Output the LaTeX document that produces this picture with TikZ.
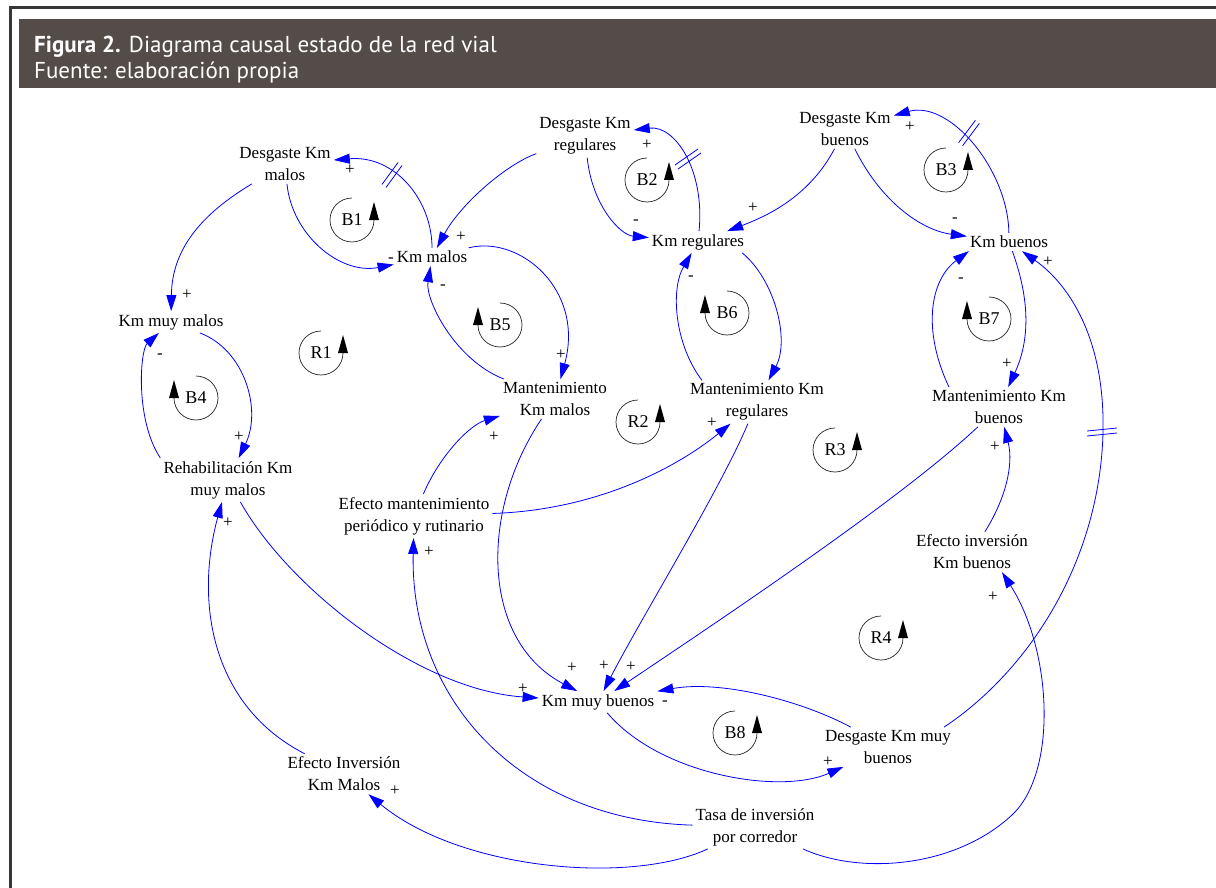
\documentclass[tikz,border=0pt]{standalone}
\usepackage{fontspec}
\setmainfont{Liberation Serif}
\newfontfamily\hdrfont{PT Sans}
\usetikzlibrary{arrows.meta,calc}
\definecolor{hdrgray}{RGB}{84,76,72}
\definecolor{framegray}{RGB}{55,55,55}
\definecolor{linkblue}{RGB}{0,0,255}
\newcommand\loopmarkR[4]{%
  \node[looplabel] (#1) at (#2,#3) {#4};
  \draw[loopline] (#2,#3) ++(-90:22) arc[start angle=-90,end angle=-360,radius=22];
  \fill[black] (#2+22-5,#3) -- (#2+22+5,#3) -- (#2+22,#3-18) -- cycle;}
\newcommand\loopmarkL[4]{%
  \node[looplabel] (#1) at (#2,#3) {#4};
  \draw[loopline] (#2,#3) ++(-90:22) arc[start angle=-90,end angle=180,radius=22];
  \fill[black] (#2-22-5,#3) -- (#2-22+5,#3) -- (#2-22,#3-18) -- cycle;}
\begin{document}
\begin{tikzpicture}[x=1pt,y=-1pt,
  var/.style={align=center,inner sep=3pt,font=\fontsize{17}{22}\selectfont,text=black},
  sgn/.style={inner sep=0pt,font=\fontsize{17}{17}\selectfont,text=black},
  link/.style={draw=linkblue,line width=0.8pt,-{Triangle[length=16pt,width=10pt]}},
  loopline/.style={draw=black!85,line width=0.7pt},
  looplabel/.style={inner sep=0pt,font=\fontsize{18}{18}\selectfont},
  delay/.style={draw=linkblue,line width=0.8pt},
  hdr/.style={anchor=base west,inner sep=0pt,text=white,font=\hdrfont\fontsize{23}{26}\selectfont}]
\useasboundingbox (0,0) rectangle (1216,888);
\fill[white] (0,0) rectangle (1216,888);
% frame and header
\fill[framegray] (9,6.5) rectangle (1216,9.5);
\fill[framegray] (9,6.5) rectangle (11.5,888);
\fill[hdrgray] (19,19) rectangle (1216,88);
\node[hdr] (title) at (34,53) {\textbf{Figura 2.} Diagrama causal estado de la red vial};
\node[hdr] (source) at (34,79) {Fuente: elaboración propia};
% variables
\node[var] (dmal) at (285,164) {Desgaste Km\\malos};
\node[var] (kmal) at (432,257) {Km malos};
\node[var] (kmm) at (171,322) {Km muy malos};
\node[var] (dreg) at (585,136) {Desgaste Km\\regulares};
\node[var] (kreg) at (698,242) {Km regulares};
\node[var] (dbue) at (845,129) {Desgaste Km\\buenos};
\node[var] (kbue) at (1009,242) {Km buenos};
\node[var] (mmal) at (555,399) {Mantenimiento\\Km malos};
\node[var] (mreg) at (757,402) {Mantenimiento Km\\regulares};
\node[var] (mbue) at (999,407) {Mantenimiento Km\\buenos};
\node[var] (rehab) at (228,480) {Rehabilitación Km\\muy malos};
\node[var] (efm) at (414,516) {Efecto mantenimiento\\periódico y rutinario};
\node[var] (efib) at (972,552) {Efecto inversión\\Km buenos};
\node[var] (kmb) at (598,702) {Km muy buenos};
\node[var] (dmb) at (888,747) {Desgaste Km muy\\buenos};
\node[var] (efim) at (344,774) {Efecto Inversión\\Km Malos};
\node[var] (tasa) at (755,827) {Tasa de inversión\\por corredor};
% links
\draw[link] (kmal) .. controls (432,200) and (395,155) .. (dmal);
\draw[link] (dmal) .. controls (292,235) and (340,275) .. (kmal);
\draw[link] (dreg) .. controls (505,165) and (460,205) .. (kmal);
\draw[link] (dmal) .. controls (200,215) and (172,250) .. (kmm);
\draw[link] (kmal) .. controls (520,235) and (585,290) .. (mmal);
\draw[link] (mmal) .. controls (455,360) and (425,300) .. (kmal);
\draw[link] (kmm) .. controls (245,350) and (262,410) .. (rehab);
\draw[link] (rehab.north west) .. controls (135,420) and (140,350) .. (kmm);
\draw[link] (rehab) .. controls (290,590) and (420,690) .. (kmb);
\draw[link] (efim) .. controls (210,705) and (195,600) .. (rehab);
\draw[link] (tasa) .. controls (630,885) and (460,870) .. (efim);
\draw[link] (tasa) .. controls (520,820) and (410,700) .. (efm);
\draw[link] (tasa) .. controls (860,875) and (955,868) .. (1012,815) .. controls (1058,772) and (1052,650) .. ($(efib.south)+(30,0)$);
\draw[link] (efm) .. controls (440,455) and (470,425) .. (mmal);
\draw[link] (efm) .. controls (600,510) and (680,465) .. (mreg);
\draw[link] (mmal) .. controls (480,510) and (480,640) .. (kmb);
\draw[link] (mreg) .. controls (720,490) and (640,620) .. (kmb);
\draw[link] (mbue) .. controls (900,500) and (720,620) .. (kmb);
\draw[link] (dmb) .. controls (800,700) and (720,680) .. (kmb);
\draw[link] (kmb) .. controls (660,775) and (780,795) .. (dmb);
\draw[link] ($(dmb.north east)+(-10,0)$) .. controls (1030,670) and (1100,560) .. (1103,432) .. controls (1105,340) and (1070,285) .. (kbue);
\draw[link] (kbue) .. controls (1008,170) and (950,100) .. (dbue);
\draw[link] (dbue) .. controls (880,200) and (920,230) .. (kbue);
\draw[link] (dbue) .. controls (810,195) and (770,215) .. (kreg);
\draw[link] (kreg) .. controls (705,170) and (675,125) .. (dreg);
\draw[link] (dreg) .. controls (592,205) and (620,235) .. (kreg);
\draw[link] ($(kreg.south east)+(-5,0)$) .. controls (775,280) and (790,340) .. (mreg);
\draw[link] ($(mreg.north west)+(15,0)$) .. controls (675,345) and (670,290) .. (kreg);
\draw[link] (kbue) .. controls (1030,300) and (1030,340) .. (mbue);
\draw[link] ($(mbue.north west)+(20,0)$) .. controls (922,330) and (930,280) .. ($(kbue.south west)+(2,0)$);
\draw[link] (efib) .. controls (1005,500) and (1014,465) .. (mbue);
% delay marks
\draw[delay] (382,184.5) -- (398,162.5) (386,187.5) -- (402,165.5);
\draw[delay] (675,165) -- (698,149) (678,169) -- (701,153);
\draw[delay] (958.6,142.7) -- (975.4,120.3) (962.6,145.7) -- (979.4,123.3);
\draw[delay] (1087,431) -- (1117,428) (1087,436) -- (1117,433);
% polarity signs
\node[sgn] (s1) at (350,170) {+};
\node[sgn] (s2) at (391,260) {-};
\node[sgn] (s3) at (461,237) {+};
\node[sgn] (s4) at (187,295) {+};
\node[sgn] (s5) at (561,355) {+};
\node[sgn] (s6) at (443,287) {-};
\node[sgn] (s7) at (239,437) {+};
\node[sgn] (s8) at (160,356) {-};
\node[sgn] (s9) at (523,689) {+};
\node[sgn] (s10) at (228,523) {+};
\node[sgn] (s11) at (395,791) {+};
\node[sgn] (s12) at (429,552) {+};
\node[sgn] (s13) at (993,597) {+};
\node[sgn] (s14) at (494,437) {+};
\node[sgn] (s15) at (712,423) {+};
\node[sgn] (s16) at (572,668) {+};
\node[sgn] (s17) at (604,666) {+};
\node[sgn] (s18) at (631,667) {+};
\node[sgn] (s19) at (665,703) {-};
\node[sgn] (s20) at (828,762) {+};
\node[sgn] (s21) at (1048,262) {+};
\node[sgn] (s22) at (910,127) {+};
\node[sgn] (s23) at (955,220) {-};
\node[sgn] (s24) at (753,208) {+};
\node[sgn] (s25) at (647,145) {+};
\node[sgn] (s26) at (636,222) {-};
\node[sgn] (s28) at (691,278) {-};
\node[sgn] (s29) at (1007,364) {+};
\node[sgn] (s30) at (961,280) {-};
\node[sgn] (s31) at (995,447) {+};
% loop markers
\loopmarkR{lb1}{352}{220}{B1}
\loopmarkR{lb2}{647}{180}{B2}
\loopmarkR{lb3}{946}{170}{B3}
\loopmarkL{lb4}{196}{398}{B4}
\loopmarkL{lb5}{500}{325}{B5}
\loopmarkL{lb6}{727}{313}{B6}
\loopmarkL{lb7}{989}{319}{B7}
\loopmarkR{lb8}{735}{733}{B8}
\loopmarkR{lr1}{321}{353}{R1}
\loopmarkR{lr2}{638}{422}{R2}
\loopmarkR{lr3}{835}{450}{R3}
\loopmarkR{lr4}{881}{638}{R4}
\end{tikzpicture}
\end{document}
